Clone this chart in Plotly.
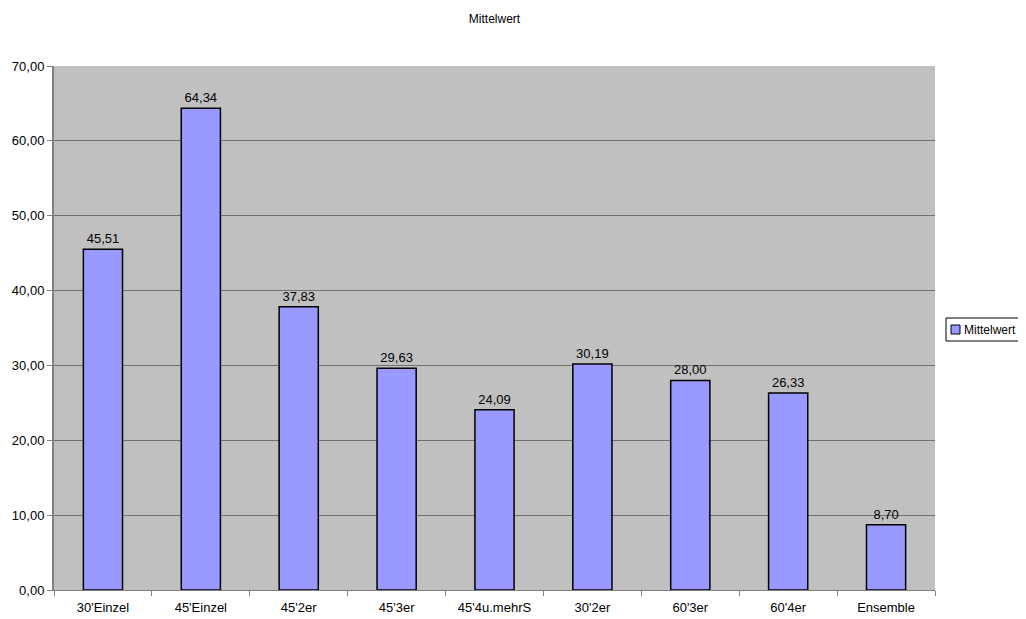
import plotly.graph_objects as go

categories = ["30'Einzel", "45'Einzel", "45'2er", "45'3er", "45'4u.mehrS",
              "30'2er", "60'3er", "60'4er", "Ensemble"]
mittelwert = [45.51, 64.34, 37.83, 29.63, 24.09, 30.19, 28.00, 26.33, 8.70]

W, H = 1018, 611
L, R, T, B = 46, 91, 58, 29
plot_w, plot_h = W - L - R, H - T - B


def px_x(px):
    return (px - L) / plot_w


def px_y(py):
    return (H - B - py) / plot_h


fig = go.Figure()
fig.add_trace(go.Bar(
    x=categories,
    y=mittelwert,
    name="Mittelwert",
    width=0.4,
    marker={"color": "#9999FF", "line": {"color": "#000000", "width": 1.5}},
    texttemplate="%{y:.2f}",
    textposition="outside",
    textfont={"size": 13, "color": "#000000"},
    cliponaxis=False,
    showlegend=False,
))

# legend drawn by hand (compact like the original)
fig.add_shape(type="rect", xref="paper", yref="paper",
              x0=px_x(938), x1=px_x(1017), y0=px_y(333), y1=px_y(310),
              line={"color": "#000000", "width": 1}, fillcolor="white")
fig.add_shape(type="rect", xref="paper", yref="paper",
              x0=px_x(943), x1=px_x(952), y0=px_y(326), y1=px_y(317),
              line={"color": "#000000", "width": 1}, fillcolor="#9999FF")
fig.add_annotation(text="Mittelwert", xref="paper", yref="paper",
                   x=px_x(954), y=px_y(321.5), xanchor="left", yanchor="middle",
                   showarrow=False, font={"size": 12})

fig.update_layout(
    width=W,
    height=H,
    margin={"l": L, "r": R, "t": T, "b": B, "autoexpand": False},
    paper_bgcolor="white",
    plot_bgcolor="#C0C0C0",
    font={"family": "Liberation Sans, Arial, sans-serif", "size": 13, "color": "#000000"},
    separators=",.",
    title={"text": "Mittelwert", "x": 0.5, "xref": "paper", "y": 0.983,
           "yanchor": "middle", "font": {"size": 12}},
    showlegend=False,
    bargap=0.6,
)

fig.update_xaxes(
    type="category",
    showline=True, linecolor="#808080", linewidth=1,
    ticks="outside", tickson="boundaries", ticklen=5, tickcolor="#808080",
    ticklabelstandoff=5,
    showgrid=False, mirror=False,
)
fig.update_yaxes(
    range=[0, 70], dtick=10, tickformat=".2f",
    showline=True, linecolor="#808080", linewidth=2,
    ticks="outside", ticklen=5, tickcolor="#808080",
    showgrid=True, gridcolor="#707070", gridwidth=1,
    zeroline=False,
)

fig.write_html("out.html")
